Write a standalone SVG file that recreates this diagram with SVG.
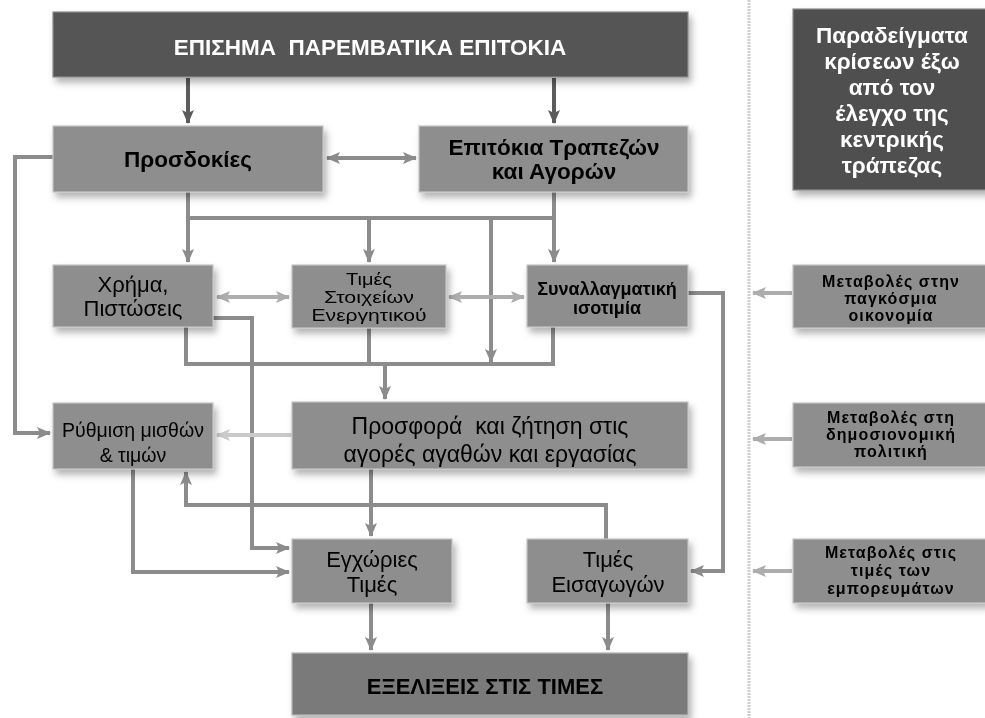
<svg xmlns="http://www.w3.org/2000/svg" width="985" height="718" viewBox="0 0 985 718">
<style>
.t{font-family:"Liberation Sans",Arial,"Noto Sans",sans-serif;text-anchor:middle;fill:#000}
.b{font-weight:bold}
.w{fill:#fff}
.box{fill:#8e8e8e;stroke:#c4c4c4;stroke-width:1.2}
.dark{fill:#555;stroke:#8a8a8a;stroke-width:1.2}
.mid{fill:#7a7a7a;stroke:#b4b4b4;stroke-width:1.2}
.c{fill:none;stroke:#8c8c8c;stroke-width:4}
.cd{fill:none;stroke:#5c5c5c;stroke-width:4}
.cl{fill:none;stroke:#adadad;stroke-width:4}
.cv{fill:none;stroke:#cacaca;stroke-width:4}
.rs{font-size:16px;letter-spacing:1.1px}
</style>
<defs>
<filter id="sh" x="-10%" y="-20%" width="130%" height="160%">
<feDropShadow dx="3" dy="5" stdDeviation="3.5" flood-color="#000" flood-opacity="0.3"/>
</filter>
<marker id="a" viewBox="0 0 14 12" refX="13" refY="6" markerWidth="14" markerHeight="12" markerUnits="userSpaceOnUse" orient="auto-start-reverse"><path d="M0,0 L14,6 L0,12 L3,6 z" fill="#8c8c8c"/></marker>
<marker id="ad" viewBox="0 0 14 12" refX="13" refY="6" markerWidth="14" markerHeight="12" markerUnits="userSpaceOnUse" orient="auto-start-reverse"><path d="M0,0 L14,6 L0,12 L3,6 z" fill="#5c5c5c"/></marker>
<marker id="al" viewBox="0 0 14 12" refX="13" refY="6" markerWidth="14" markerHeight="12" markerUnits="userSpaceOnUse" orient="auto-start-reverse"><path d="M0,0 L14,6 L0,12 L3,6 z" fill="#adadad"/></marker>
<marker id="av" viewBox="0 0 14 12" refX="13" refY="6" markerWidth="14" markerHeight="12" markerUnits="userSpaceOnUse" orient="auto-start-reverse"><path d="M0,0 L14,6 L0,12 L3,6 z" fill="#cacaca"/></marker>
</defs>
<rect width="985" height="718" fill="#fff"/>
<line x1="749" y1="0" x2="749" y2="718" stroke="#cfcfcf" stroke-width="3" stroke-dasharray="2 1"/>

<g id="connectors">
<path class="cd" d="M188,78 V123" marker-end="url(#ad)"/>
<path class="cd" d="M554,78 V123" marker-end="url(#ad)"/>
<path class="c" d="M327,158 H416" marker-start="url(#a)" marker-end="url(#a)"/>
<path class="c" d="M53,157 H15 V433 H50" marker-end="url(#a)"/>
<path class="c" d="M188,192 V218 H554 M554,192 V218"/>
<path class="c" d="M188,218 V262" marker-end="url(#a)"/>
<path class="c" d="M369,218 V262" marker-end="url(#a)"/>
<path class="c" d="M554,218 V262" marker-end="url(#a)"/>
<path class="c" d="M491,218 V362" marker-end="url(#a)"/>
<path class="cl" d="M217,297 H289" marker-start="url(#al)" marker-end="url(#al)"/>
<path class="cl" d="M449,297 H524" marker-start="url(#al)" marker-end="url(#al)"/>
<path class="c" d="M213,318 H252 V548 H289" marker-end="url(#a)"/>
<path class="c" d="M186,327 V364 H553 V327 M369,328 V364"/>
<path class="c" d="M385,364 V399" marker-end="url(#a)"/>
<path class="cv" d="M292,435 H217" marker-end="url(#av)"/>
<path class="c" d="M133,469 V572 H289" marker-end="url(#a)"/>
<path class="c" d="M606,539 V505 H186 V472" marker-end="url(#a)"/>
<path class="c" d="M371,469 V536" marker-end="url(#a)"/>
<path class="c" d="M688,293 H723 V571 H691" marker-end="url(#a)"/>
<path class="c" d="M371,603 V650" marker-end="url(#a)"/>
<path class="c" d="M608,603 V650" marker-end="url(#a)"/>
<path class="cl" d="M792,293 H753" marker-end="url(#al)"/>
<path class="cl" d="M792,439 H753" marker-end="url(#al)"/>
<path class="cl" d="M792,571 H753" marker-end="url(#al)"/>
</g>

<g id="n-top" filter="url(#sh)">
<rect class="dark" x="53" y="12" width="635" height="65"/>
<text class="t b w" x="370" y="55" font-size="22.5" xml:space="preserve">ΕΠΙΣΗΜΑ  ΠΑΡΕΜΒΑΤΙΚΑ ΕΠΙΤΟΚΙΑ</text>
</g>
<g id="n-prosdokies" filter="url(#sh)">
<rect class="box" x="53" y="126" width="270" height="66"/>
<text class="t b" x="188" y="167" font-size="22.5">Προσδοκίες</text>
</g>
<g id="n-epitokia" filter="url(#sh)">
<rect class="box" x="419" y="126" width="269" height="66"/>
<text class="t b" x="554" y="155" font-size="22.5">Επιτόκια Τραπεζών</text>
<text class="t b" x="554" y="179" font-size="22.5">και Αγορών</text>
</g>
<g id="n-xrima" filter="url(#sh)">
<rect class="box" x="53" y="265" width="160" height="62"/>
<text class="t" x="133" y="292" font-size="22">Χρήμα,</text>
<text class="t" x="133" y="316" font-size="22">Πιστώσεις</text>
</g>
<g id="n-times-stoixeion" filter="url(#sh)">
<rect class="box" x="292" y="265" width="154" height="63"/>
<text class="t" x="369" y="285" font-size="17" textLength="46" lengthAdjust="spacingAndGlyphs">Τιμές</text>
<text class="t" x="369" y="303" font-size="17" textLength="90" lengthAdjust="spacingAndGlyphs">Στοιχείων</text>
<text class="t" x="369" y="321" font-size="17" textLength="115" lengthAdjust="spacingAndGlyphs">Ενεργητικού</text>
</g>
<g id="n-synallagmatiki" filter="url(#sh)">
<rect class="box" x="527" y="265" width="161" height="62"/>
<text class="t b" x="607" y="295" font-size="18">Συναλλαγματική</text>
<text class="t b" x="607" y="314" font-size="18">ισοτιμία</text>
</g>
<g id="n-rythmisi" filter="url(#sh)">
<rect class="box" x="53" y="403" width="160" height="66"/>
<text class="t" x="133" y="437" font-size="19.5">Ρύθμιση μισθών</text>
<text class="t" x="133" y="462" font-size="19.5">&amp; τιμών</text>
</g>
<g id="n-prosfora" filter="url(#sh)">
<rect class="box" x="292" y="402" width="396" height="67"/>
<text class="t" x="490" y="434" font-size="23" xml:space="preserve">Προσφορά  και ζήτηση στις</text>
<text class="t" x="490" y="462" font-size="23">αγορές αγαθών και εργασίας</text>
</g>
<g id="n-egxories" filter="url(#sh)">
<rect class="box" x="292" y="539" width="160" height="64"/>
<text class="t" x="372" y="567" font-size="22">Εγχώριες</text>
<text class="t" x="372" y="592" font-size="22">Τιμές</text>
</g>
<g id="n-eisagogon" filter="url(#sh)">
<rect class="box" x="527" y="539" width="161" height="64"/>
<text class="t" x="608" y="567" font-size="22">Τιμές</text>
<text class="t" x="608" y="592" font-size="22">Εισαγωγών</text>
</g>
<g id="n-exelixeis" filter="url(#sh)">
<rect class="mid" x="292" y="653" width="396" height="62"/>
<text class="t b" x="485" y="694" font-size="22">ΕΞΕΛΙΞΕΙΣ ΣΤΙΣ ΤΙΜΕΣ</text>
</g>
<g id="n-paradeigmata" filter="url(#sh)">
<rect class="dark" x="793" y="9" width="195" height="181" style="fill:#505050"/>
<text class="t b w" x="892" y="43" font-size="22.5">Παραδείγματα</text>
<text class="t b w" x="892" y="69" font-size="22.5">κρίσεων έξω</text>
<text class="t b w" x="892" y="95" font-size="22.5">από τον</text>
<text class="t b w" x="892" y="121" font-size="22.5">έλεγχο της</text>
<text class="t b w" x="892" y="147" font-size="22.5">κεντρικής</text>
<text class="t b w" x="892" y="173" font-size="22.5">τράπεζας</text>
</g>
<g id="n-pagkosmia" filter="url(#sh)">
<rect class="box" x="793" y="265" width="195" height="63"/>
<text class="t b rs" x="891" y="287">Μεταβολές στην</text>
<text class="t b rs" x="891" y="304">παγκόσμια</text>
<text class="t b rs" x="891" y="321">οικονομία</text>
</g>
<g id="n-dimosionomiki" filter="url(#sh)">
<rect class="box" x="793" y="403" width="195" height="64"/>
<text class="t b rs" x="891" y="423">Μεταβολές στη</text>
<text class="t b rs" x="891" y="440">δημοσιονομική</text>
<text class="t b rs" x="891" y="457">πολιτική</text>
</g>
<g id="n-emporeumata" filter="url(#sh)">
<rect class="box" x="793" y="539" width="195" height="64"/>
<text class="t b rs" x="891" y="558">Μεταβολές στις</text>
<text class="t b rs" x="891" y="576">τιμές των</text>
<text class="t b rs" x="891" y="594">εμπορευμάτων</text>
</g>
</svg>
